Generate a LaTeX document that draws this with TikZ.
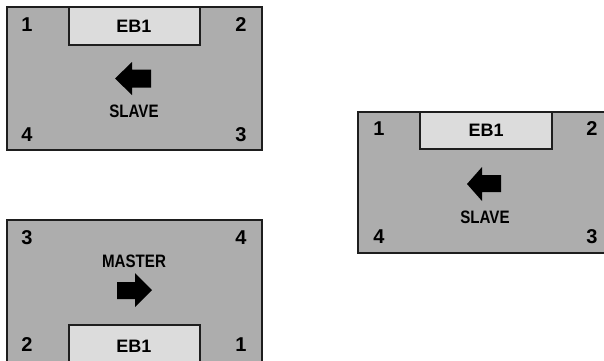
\documentclass[tikz,border=0pt]{standalone}
\usepackage{fontspec}
\setmainfont{Liberation Sans}
\usepackage{graphicx}

\definecolor{boxgray}{HTML}{ADADAD}
\definecolor{tabgray}{HTML}{DCDCDC}
\definecolor{edgeline}{HTML}{1E1E1E}

\tikzset{
    panel/.style={fill=boxgray, draw=edgeline, line width=1.7pt},
    tab/.style={fill=tabgray, draw=edgeline, line width=1.7pt},
    num/.style={font=\fontsize{20}{20}\selectfont\bfseries, inner sep=0pt},
    lbl/.style={font=\fontsize{18}{18}\selectfont\bfseries, inner sep=0pt},
}
\newcommand{\narrowtext}[1]{\scalebox{0.84}[1]{#1}}

\begin{document}
\begin{tikzpicture}[x=1pt, y=-1pt]
            \useasboundingbox (0,0) rectangle (604,360);
            \clip (0,0) rectangle (604,360);

            % upper left: slave
            \draw[panel] (7,7) rectangle (262,150);
            \draw[tab] (69,7) rectangle (200,45);
            \node[lbl] (ebA) at (134,26) {EB1};
            \node[num] (a1) at (27,25) {1};
            \node[num] (a2) at (241,25) {2};
            \node[num] (a4) at (27,135) {4};
            \node[num] (a3) at (241,135) {3};
            \fill[black] (115,78.5) -- (132,62) -- (132,69.5) -- (151,69.5) -- (151,87.5) -- (132,87.5) -- (132,95) -- cycle;
            \node[lbl] (slaveA) at (134,111) {\narrowtext{SLAVE}};

            % lower left: master
            \draw[panel] (7,220) rectangle (262,366);
            \draw[tab] (69,325) rectangle (200,366);
            \node[lbl] (ebB) at (134,346) {EB1};
            \node[num] (b3) at (27,238) {3};
            \node[num] (b4) at (241,238) {4};
            \node[num] (b2) at (27,345) {2};
            \node[num] (b1) at (241,345) {1};
            \node[lbl] (masterB) at (134,261) {\narrowtext{MASTER}};
            \fill[black] (117,282) -- (135,282) -- (135,273) -- (152,290) -- (135,307) -- (135,299) -- (117,299) -- cycle;

            % right: slave
            \draw[panel] (358,112) rectangle (614,253);
            \draw[tab] (420,112) rectangle (552,149);
            \node[lbl] (ebC) at (486,130) {EB1};
            \node[num] (c1) at (379,129) {1};
            \node[num] (c2) at (592,129) {2};
            \node[num] (c4) at (379,237) {4};
            \node[num] (c3) at (592,237) {3};
            \fill[black] (467,184) -- (482,167) -- (482,175) -- (501,175) -- (501,192) -- (482,192) -- (482,201) -- cycle;
            \node[lbl] (slaveC) at (485,217) {\narrowtext{SLAVE}};
\end{tikzpicture}
\end{document}
